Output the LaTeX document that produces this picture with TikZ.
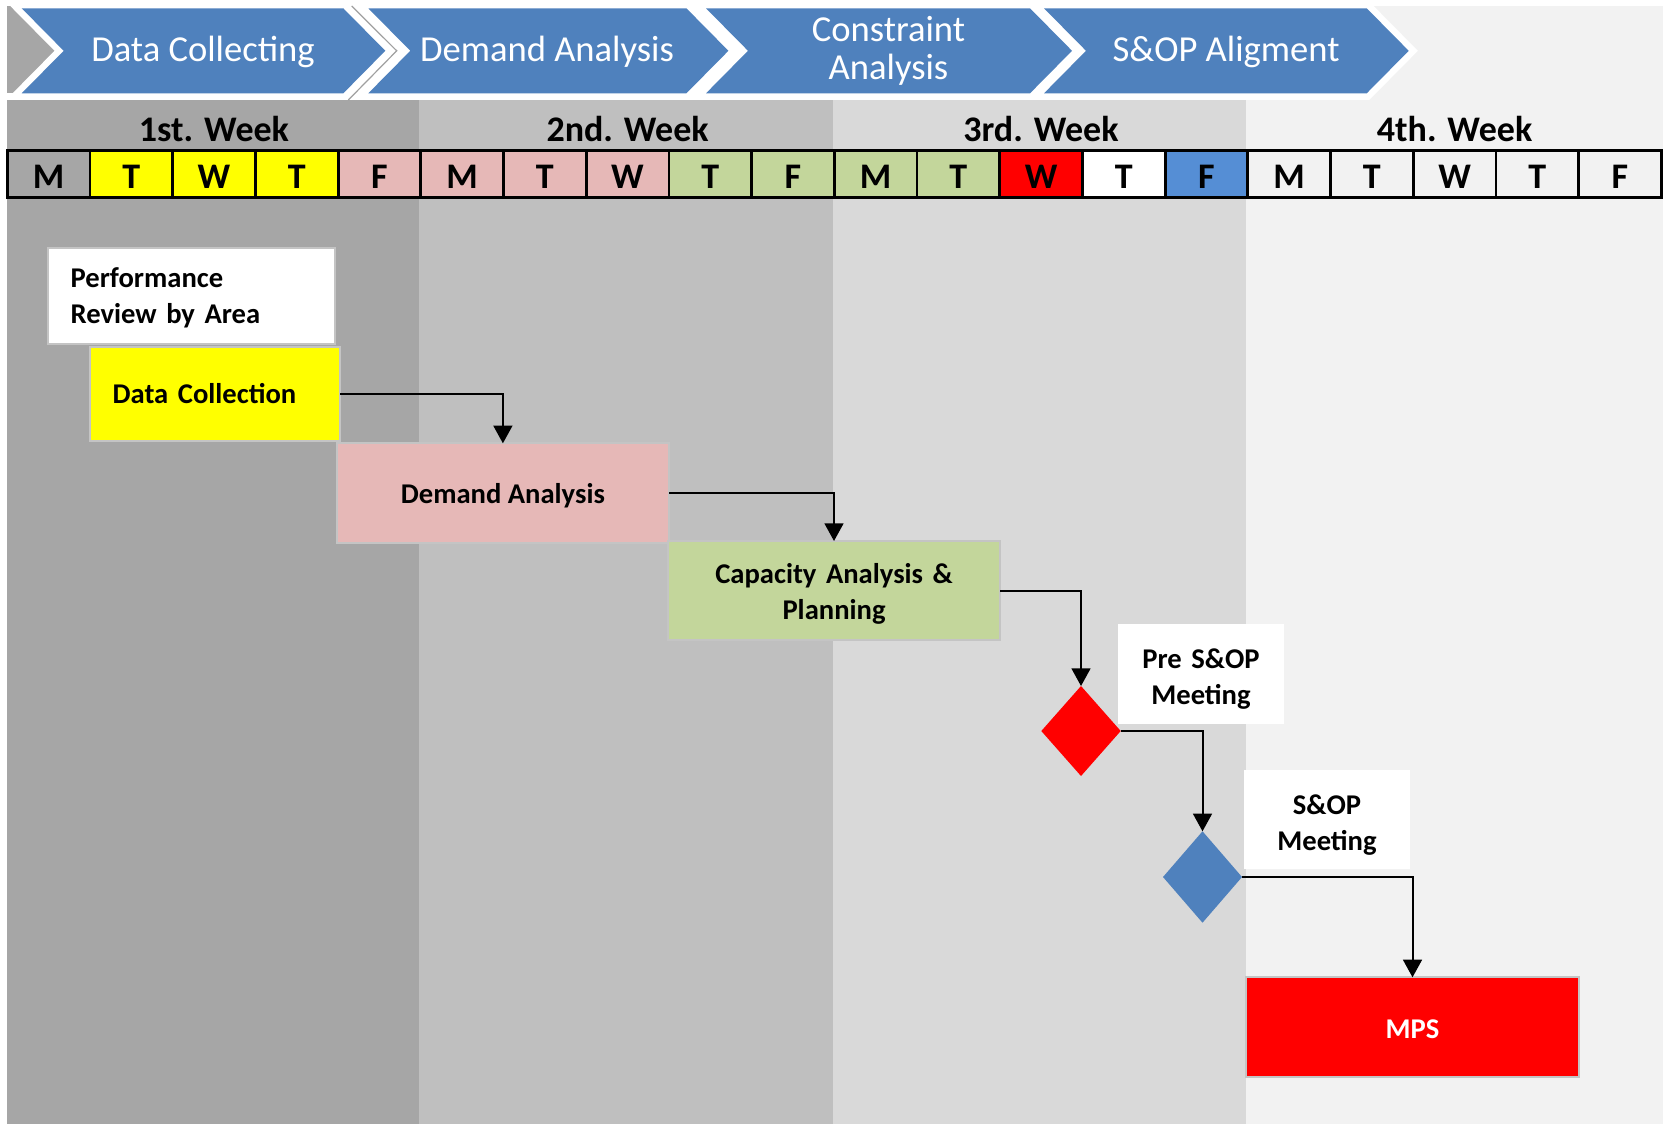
\documentclass[tikz,border=0pt]{standalone}
\usepackage{fontspec}
\setmainfont{Carlito}
\usetikzlibrary{shapes.geometric,arrows.meta}

\definecolor{wkA}{HTML}{A6A6A6}
\definecolor{wkB}{HTML}{BFBFBF}
\definecolor{wkC}{HTML}{D9D9D9}
\definecolor{wkD}{HTML}{F2F2F2}
\definecolor{chev}{HTML}{4F81BD}
\definecolor{dayY}{HTML}{FFFF00}
\definecolor{dayP}{HTML}{E6B8B7}
\definecolor{dayG}{HTML}{C3D69B}
\definecolor{dayR}{HTML}{FF0000}
\definecolor{dayB}{HTML}{558ED5}
\definecolor{boxline}{HTML}{C4C4C4}
\definecolor{seam}{HTML}{A0A0A0}

\begin{document}
\begin{tikzpicture}[x=0.5pt,y=-0.5pt,
  every node/.style={inner sep=0pt, outer sep=0pt},
  chevtext/.style={text=white, font=\fontsize{18.3}{18.8}\selectfont, anchor=base},
  weektext/.style={font=\bfseries\fontsize{18}{20}\selectfont, anchor=base},
  daycell/.style={draw=black, line width=1.4pt, minimum width=41.35pt, minimum height=23.5pt,
    font=\bfseries\fontsize{18}{20}\selectfont, text height=14.5pt, text depth=0pt},
  taskbox/.style={draw=boxline, line width=1pt, font=\bfseries\fontsize{14.3}{18}\selectfont},
  flowarrow/.style={draw=black, line width=1pt, -{Triangle[length=8.8pt,width=9.4pt]}},
]
\useasboundingbox (0,0) rectangle (1663,1124);
\fill[white] (0,0) rectangle (1663,1124);

% week columns
\fill[wkA] (7.3,6) rectangle (419.3,1124);
\fill[wkB] (419.3,6) rectangle (832.8,1124);
\fill[wkC] (832.8,6) rectangle (1246.3,1124);
\fill[wkD] (1246.3,6) rectangle (1663,1124);

% white strip behind the phase chevrons
\fill[white] (343.3,0) rectangle (1044,100);
\fill[white] (7.3,93.3) rectangle (1366.7,100);

% phase chevrons: white outline first, blue body on top
\foreach \L/\R in {21.7/343.3, 368.3/686.4, 706/1030, 1044/1366.7}{
  \draw[white, line width=6.5pt, miter limit=10]
    (\L,8.3) -- (\R,8.3) -- ({\R+42},50.8) -- (\R,93.3) -- (\L,93.3) -- ({\L+42},50.8) -- cycle;
}
\draw[seam, line width=0.6pt] (351.7,6) -- (396.7,50.8) -- (348.3,100);
\foreach \L/\R in {21.7/343.3, 368.3/686.4, 706/1030, 1044/1366.7}{
  \fill[chev]
    (\L,8.3) -- (\R,8.3) -- ({\R+42},50.8) -- (\R,93.3) -- (\L,93.3) -- ({\L+42},50.8) -- cycle;
}
\node[chevtext] (ph1) at (203,61) {Data Collecting};
\node[chevtext] (ph2) at (547,61) {Demand Analysis};
\node[chevtext, text width=120pt, align=center] (ph3) at (888.5,41.5) {Constraint\\Analysis};
\node[chevtext] (ph4) at (1226,61) {S\&OP Aligment};

% week headings
\node[weektext] (wk1) at (214,141) {1st. Week};
\node[weektext] (wk2) at (627.6,141) {2nd. Week};
\node[weektext] (wk3) at (1041,141) {3rd. Week};
\node[weektext] (wk4) at (1454.6,141) {4th. Week};

% day cells
\foreach \i/\d/\c in {1/M/wkA, 2/T/dayY, 3/W/dayY, 4/T/dayY, 5/F/dayP,
                      6/M/dayP, 7/T/dayP, 8/W/dayP, 9/T/dayG, 10/F/dayG,
                      11/M/dayG, 12/T/dayG, 13/W/dayR, 14/T/white, 15/F/dayB,
                      16/M/wkD, 17/T/wkD, 18/W/wkD, 19/T/wkD, 20/F/wkD}{
  \node[daycell, fill=\c] (day\i) at ({7.3+82.7*(\i-0.5)},174.3) {\d};
}

% process steps
\node[taskbox, fill=white, minimum width=143.35pt, minimum height=48.3pt,
      font=\bfseries\fontsize{14.3}{18.4}\selectfont,
      text width=121pt, align=left, text height=0pt, text depth=9pt]
      (perf) at (191.7,296) {Performance\\Review by Area};
\node[taskbox, fill=dayY, minimum width=125pt, minimum height=47pt,
      text width=102.3pt, align=left, text height=9.6pt, text depth=0pt]
      (dc) at (215,393.7) {Data Collection};
\node[taskbox, fill=dayP, minimum width=166.15pt, minimum height=49.7pt,
      text height=10.7pt, text depth=0pt]
      (dem) at (502.9,493) {Demand Analysis};
\node[taskbox, fill=dayG, minimum width=166pt, minimum height=49.5pt,
      text width=150pt, align=center, text height=0pt, text depth=7.3pt]
      (cap) at (834,590.5) {Capacity Analysis \&\\Planning};
\node[taskbox, draw=none, fill=white, minimum width=83pt, minimum height=50pt,
      text width=75pt, align=center, text height=0pt, text depth=5.3pt]
      (prelbl) at (1201,674) {Pre S\&OP\\Meeting};
\node[diamond, fill=dayR, minimum width=39.7pt, minimum height=45pt] (pre) at (1081,731) {};
\node[taskbox, draw=none, fill=white, minimum width=83pt, minimum height=49.5pt,
      text width=75pt, align=center, text height=0pt, text depth=4.8pt]
      (soplbl) at (1327,819.5) {S\&OP\\Meeting};
\node[diamond, fill=chev, minimum width=39.5pt, minimum height=45.7pt] (sop) at (1202.5,877) {};
\node[taskbox, fill=dayR, text=white, minimum width=166.5pt, minimum height=49.7pt,
      text height=11.3pt, text depth=0pt]
      (mps) at (1412.5,1027) {MPS};

% flow connectors
\draw[flowarrow] (dc.east) -| (dem.north);
\draw[flowarrow] (dem.east) -| (cap.north);
\draw[flowarrow] (cap.east) -| (pre.north);
\draw[flowarrow] (pre.east) -| (sop.north);
\draw[flowarrow] (sop.east) -| (mps.north);
\end{tikzpicture}
\end{document}
